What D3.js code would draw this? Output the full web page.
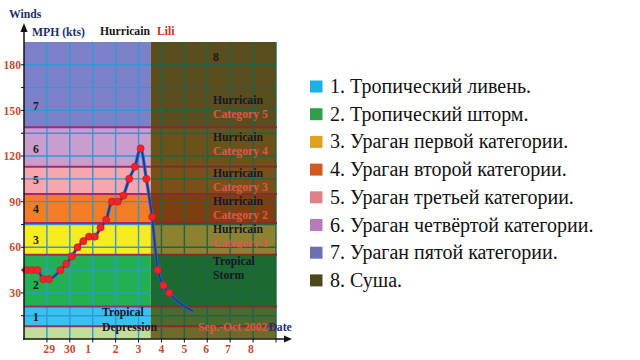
<!DOCTYPE html>
<html><head><meta charset="utf-8">
<script src="https://cdn.jsdelivr.net/npm/d3@7"></script>
<style>html,body{margin:0;padding:0;background:#fff}svg{display:block}svg text{font-family:'Liberation Serif' !important}</style>
</head><body><svg id="c" width="640" height="360"></svg>
<script>
// storm track: time in days from the first grid line, wind speed
const times = [0.09,0.34,0.59,0.84,1.09,1.59,1.84,2.09,2.34,2.59,2.84,3.09,3.34,3.59,3.84,4.09,4.34,4.59,4.84,5.09,5.34,5.59,5.84,6.09,6.34];
const winds = [45,45,45,39,39,45,49,54,60,64,67,67,73,78,90,90,94,105,113,125,105,80,45,35,30];
const tailTime = 7.37, tailWind = 18;
const landfall = 5.53;
// category band boundaries (wind)
const bandLows  = [0, 8, 21, 55, 76, 95, 113, 139];
const bandHighs = [8, 21, 55, 76, 95, 113, 139, 195];
const bandNums  = ["", "1", "2", "3", "4", "5", "6", "7"];
const bandNumAt = [0, 14, 35, 65, 85, 104, 125, 153];
const seaColors  = ["#c2dc9a","#3cc0ef","#22b052","#f8ec20","#f47c24","#f5a6ae","#c99dcd","#7c80c8"];
const landColors = ["#6e6a2a","#4a6a2e","#1c6a30","#8c8232","#7e3e10","#785018","#6a5218","#5a4e1e"];
const boundaries = [8, 21, 55, 76, 95, 113, 139];
const yTicks = [30, 60, 90, 120, 150, 180];
const dateLabels = ["29","30","1","2","3","4","5","6","7","8"];
const datePos = [1.1, 2.0, 2.8, 4.0, 5.0, 6.0, 7.0, 7.95, 8.9, 9.9];
const landLabels = [["Hurricain","Category 5",157],["Hurricain","Category 4",132.6],["Hurricain","Category 3",109],["Hurricain","Category 2",90.5],["Hurricain","Category 1",72],["Tropical","Storm",51]];
const legendLabels = ["1. Тропический ливень.","2. Тропический шторм.","3. Ураган первой категории.","4. Ураган второй категории.","5. Ураган третьей категории.","6. Ураган четвёртой категории.","7. Ураган пятой категории.","8. Суша."];
const legendColors = ["#1cb0e6","#2e9e4a","#e0a020","#d25a22","#e08088","#b87ab8","#6a70b0","#4a4a1e"];

const svg = d3.select("#c");
const x = d3.scaleLinear().domain([0, 11]).range([24, 276]);
const y = d3.scaleLinear().domain([0, 195]).range([338.5, 42]);
const xL = x(landfall), x0 = x(0), x1 = x(11);
const T = (sel) => sel.append("text").style("font-family", "'Liberation Serif'");

// fit font sizes to the reference widths, whatever font is rendered
const probe = T(svg).attr("font-weight", "bold").attr("font-size", 13).text("Hurricain");
const boldFs = Math.min(13.5, 13 * 50 / probe.node().getComputedTextLength());
probe.remove();
const probe2 = T(svg).attr("font-size", 19).text(legendLabels[5]);
const legFs = Math.min(20, 19 * 283 / probe2.node().getComputedTextLength());
probe2.remove();

// bands
const bands = bandLows.map((lo, i) => ({lo, hi: bandHighs[i], i}));
svg.selectAll("rect.sea").data(bands).join("rect")
  .attr("x", x0).attr("width", xL - x0)
  .attr("y", d => y(d.hi)).attr("height", d => y(d.lo) - y(d.hi))
  .attr("fill", d => seaColors[d.i]);
svg.selectAll("rect.land").data(bands).join("rect")
  .attr("x", xL).attr("width", x1 - xL)
  .attr("y", d => y(d.hi)).attr("height", d => y(d.lo) - y(d.hi))
  .attr("fill", d => landColors[d.i]);

// grid
const gx = d3.range(1, 12), gy = d3.range(15, 195, 15);
const g = svg.append("g");
gx.forEach(t => {
  g.append("line").attr("x1", x(t)).attr("x2", x(t)).attr("y1", y(195)).attr("y2", y(0))
    .attr("stroke", x(t) < xL ? "#2c9ad6" : "#1f6448").attr("stroke-width", 1.4);
});
gy.forEach(v => {
  g.append("line").attr("x1", x0).attr("x2", xL).attr("y1", y(v)).attr("y2", y(v)).attr("stroke", "#2c9ad6").attr("stroke-width", 1.4);
  g.append("line").attr("x1", xL).attr("x2", x1).attr("y1", y(v)).attr("y2", y(v)).attr("stroke", "#1f6448").attr("stroke-width", 1.4);
});
boundaries.forEach(v => {
  g.append("line").attr("x1", x0).attr("x2", xL).attr("y1", y(v)).attr("y2", y(v)).attr("stroke", "#a02a6e").attr("stroke-width", 2);
  g.append("line").attr("x1", xL).attr("x2", x1 + 1).attr("y1", y(v)).attr("y2", y(v)).attr("stroke", "#8a2a30").attr("stroke-width", 2);
});

// band numbers
bands.filter(d => d.i > 0).forEach(d => {
  T(svg).attr("x", 36).attr("y", y(bandNumAt[d.i])).attr("dy", "0.35em")
    .attr("text-anchor", "middle").attr("font-weight", "bold").attr("font-size", boldFs).attr("fill", "#1a1a1a")
    .text(bandNums[d.i]);
});
T(svg).attr("x", 216).attr("y", y(185)).attr("dy", "0.35em").attr("text-anchor", "middle")
  .attr("font-weight", "bold").attr("font-size", boldFs).attr("fill", "#1a1a1a").text("8");

// land labels
landLabels.forEach(([a, b, v]) => {
  const storm = a === "Tropical";
  T(svg).attr("x", 213).attr("y", y(v)).attr("dy", "0.35em").attr("font-weight", "bold").attr("font-size", boldFs).attr("fill", "#161628").text(a);
  T(svg).attr("x", 213).attr("y", y(v) + 14).attr("dy", "0.35em").attr("font-weight", "bold").attr("font-size", boldFs)
    .attr("fill", storm ? "#161628" : "#e0564a").text(b);
});
T(svg).attr("x", 102).attr("y", y(17.5)).attr("dy", "0.35em").attr("font-weight", "bold").attr("font-size", boldFs).attr("fill", "#161628").text("Tropical");
T(svg).attr("x", 102).attr("y", y(7.5)).attr("dy", "0.35em").attr("font-weight", "bold").attr("font-size", boldFs).attr("fill", "#161628").text("Depression");
const sep = T(svg).attr("x", 198).attr("y", y(7.5)).attr("dy", "0.35em").attr("font-weight", "bold").attr("font-size", boldFs).attr("fill", "#e0564a").text("Sep.-Oct 2002");
const sepEnd = 198 + sep.node().getComputedTextLength();
T(svg).attr("x", sepEnd + 1).attr("y", y(7.5)).attr("dy", "0.35em").attr("font-weight", "bold").attr("font-size", boldFs).attr("fill", "#1c2e80").text("Date");

// track
const pts = times.map((t, i) => [t, winds[i]]);
const linePts = pts.concat([[tailTime, tailWind]]);
const line = d3.line().x(d => x(d[0])).y(d => y(d[1])).curve(d3.curveMonotoneX);
svg.append("path").attr("d", line(linePts)).attr("fill", "none").attr("stroke", "#2a68c8").attr("stroke-width", 3.2);
svg.append("path").attr("d", line(linePts)).attr("fill", "none").attr("stroke", "#1a3a8a").attr("stroke-width", 1.6);
svg.selectAll("circle.p").data(pts).join("circle")
  .attr("cx", d => x(d[0])).attr("cy", d => y(d[1])).attr("r", 3.6)
  .attr("fill", "#f2222a").attr("stroke", "#c81818").attr("stroke-width", 0.6);

// axes
const axCol = "#111";
svg.append("line").attr("x1", x0).attr("x2", x0).attr("y1", y(0) + 1).attr("y2", 30).attr("stroke", axCol).attr("stroke-width", 1.5);
svg.append("path").attr("d", `M${x0 - 3.5},32 L${x0},23 L${x0 + 3.5},32 Z`).attr("fill", axCol);
svg.append("line").attr("x1", x0 - 1).attr("x2", 286).attr("y1", y(0) + 0.5).attr("y2", y(0) + 0.5).attr("stroke", axCol).attr("stroke-width", 1.5);
svg.append("path").attr("d", `M284,${y(0) - 3} L292,${y(0) + 0.5} L284,${y(0) + 4} Z`).attr("fill", axCol);
gy.forEach(v => svg.append("line").attr("x1", x0 - 3).attr("x2", x0).attr("y1", y(v)).attr("y2", y(v)).attr("stroke", axCol));
gx.forEach(t => svg.append("line").attr("x1", x(t)).attr("x2", x(t)).attr("y1", y(0)).attr("y2", y(0) + 4).attr("stroke", axCol));

yTicks.forEach(v => T(svg).attr("x", 21).attr("y", y(v)).attr("dy", "0.35em").attr("text-anchor", "end")
  .attr("font-weight", "bold").attr("font-size", boldFs).attr("fill", "#c94a32").text(v));
dateLabels.forEach((d, i) => T(svg).attr("x", x(datePos[i])).attr("y", 353).attr("text-anchor", "middle")
  .attr("font-weight", "bold").attr("font-size", boldFs).attr("fill", "#c94a32").text(d));

// titles
T(svg).attr("x", 9).attr("y", 18).attr("font-weight", "bold").attr("font-size", boldFs).attr("fill", "#1c2e70").text("Winds");
T(svg).attr("x", 32).attr("y", 36).attr("font-weight", "bold").attr("font-size", boldFs).attr("fill", "#1c2e70").text("MPH (kts)");
T(svg).attr("x", 100).attr("y", 35).attr("font-weight", "bold").attr("font-size", boldFs).attr("fill", "#161616").text("Hurricain");
T(svg).attr("x", 157).attr("y", 35).attr("font-weight", "bold").attr("font-size", boldFs).attr("fill", "#c8302a").text("Lili");

// legend
legendLabels.forEach((d, i) => {
  const lg = svg.append("g").attr("transform", `translate(310,${80.5 + i * 27.7})`);
  lg.append("rect").attr("width", 12.5).attr("height", 12).attr("fill", legendColors[i]);
  T(lg).attr("x", 20).attr("y", 12.5).attr("font-size", legFs).attr("fill", "#111").text(d);
});
</script></body></html>
